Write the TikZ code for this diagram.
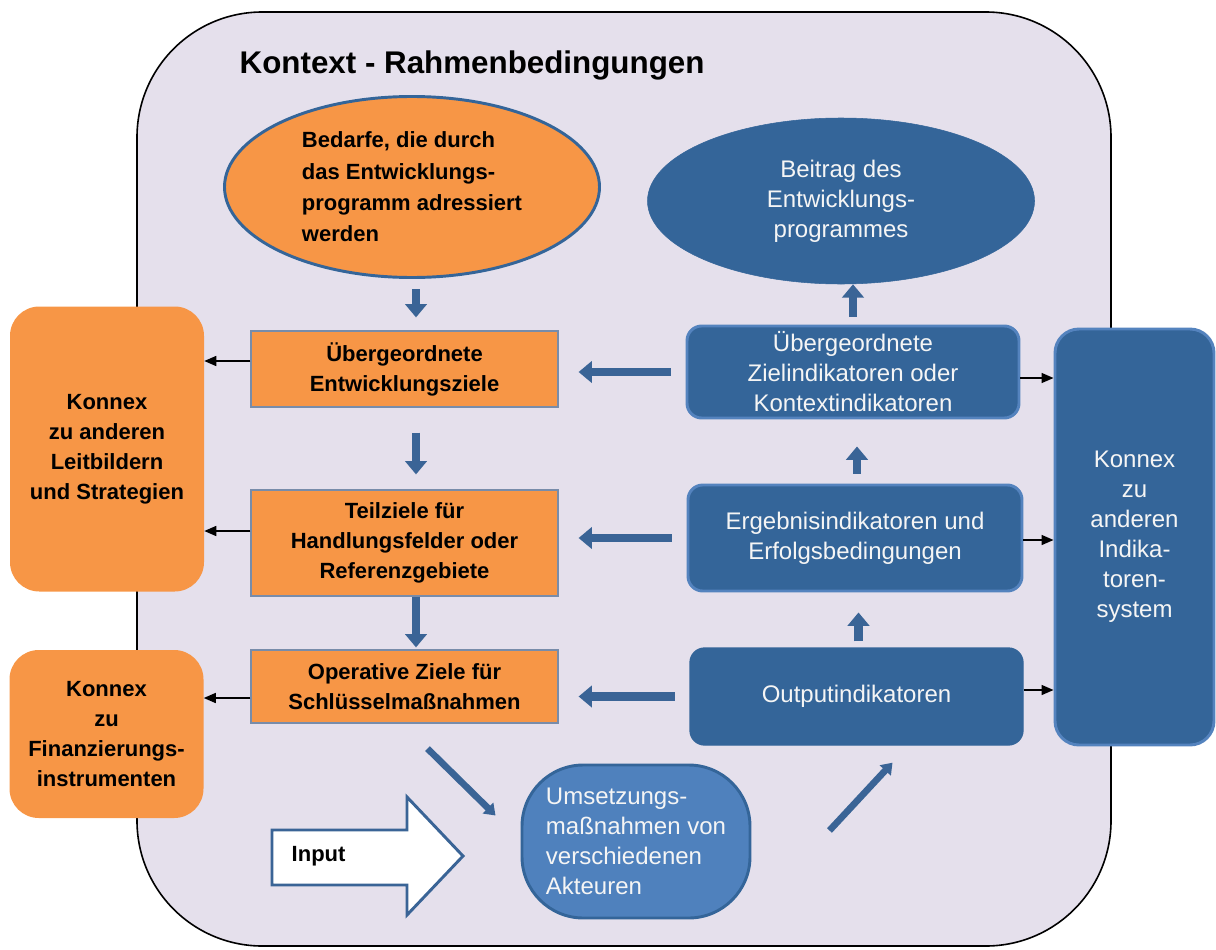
\documentclass[tikz,border=0pt]{standalone}
\usepackage{fontspec}
\setmainfont{Liberation Sans}
\usetikzlibrary{arrows.meta,shapes.geometric,calc}
\definecolor{bgl}{RGB}{229,224,236}
\definecolor{org}{RGB}{247,150,70}
\definecolor{dblue}{RGB}{52,101,153}
\definecolor{lblue}{RGB}{84,131,190}
\definecolor{ublue}{RGB}{79,129,189}
\definecolor{arrblue}{RGB}{58,100,150}
\definecolor{rectedge}{RGB}{120,140,170}
\definecolor{wtext}{RGB}{245,245,245}
\begin{document}
\begin{tikzpicture}[x=0.75pt,y=-0.75pt,
 blacktxt/.style={font=\fontsize{16.5}{22.5}\selectfont\bfseries, text=black, align=center},
 bluetxt/.style={font=\fontsize{18}{22.5}\selectfont, text=wtext, align=center},
 orect/.style={blacktxt, draw=rectedge, line width=0.9pt, fill=org, inner sep=0pt, minimum width=230.25pt},
 obox/.style={blacktxt, fill=org, rounded corners=22pt, inner sep=0pt, minimum width=145.5pt},
 bbox/.style={bluetxt, fill=dblue, draw=lblue, line width=2.2pt, rounded corners=11pt, inner sep=0pt},
 barrow/.style={draw=arrblue, line width=6.5pt, -{Triangle[width=16pt,length=10pt]}},
 darrow/.style={draw=arrblue, line width=5pt, -{Triangle[width=11pt,length=8pt]}},
 tarrow/.style={draw=black, line width=1.1pt, -{Triangle[width=7.5pt,length=9pt]}},
]
\useasboundingbox (0,0) rectangle (1216,949);
\draw[fill=bgl, draw=black, line width=1.2pt, rounded corners=94pt] (137,12) rectangle (1111,946);

\node[anchor=west, font=\fontsize{23.5}{28}\selectfont\bfseries] (title) at (235,65) {Kontext - Rahmenbedingungen};

\node[ellipse, fill=org, draw=dblue, line width=2.2pt, minimum width=281.25pt, minimum height=135.75pt, inner sep=0pt, blacktxt, font=\fontsize{16.5}{23.5}\selectfont\bfseries, align=left] (oe) at (412,187) {Bedarfe, die durch\\das Entwicklungs-\\programm adressiert\\werden};

\node[ellipse, fill=dblue, draw=dblue, minimum width=290.25pt, minimum height=124.5pt, inner sep=0pt, bluetxt] (be) at (841,201) {Beitrag des\\Entwicklungs-\\programmes};

\node[orect, minimum height=57pt] (ob1) at (404.5,369) {Übergeordnete\\Entwicklungsziele};
\node[orect, minimum height=79.5pt] (ob2) at (404.5,543) {Teilziele für\\Handlungsfelder oder\\Referenzgebiete};
\node[orect, minimum height=54.75pt] (ob3) at (404.5,686.5) {Operative Ziele für\\Schlüsselmaßnahmen};

\node[obox, minimum height=213.75pt] (kl) at (107,449) {Konnex\\zu anderen\\Leitbildern\\und Strategien};
\node[obox, minimum height=126pt] (kf) at (106.5,734) {Konnex\\zu\\Finanzierungs-\\instrumenten};

\node[bbox, minimum width=249pt, minimum height=69pt] (zi) at (853,372) {Übergeordnete\\Zielindikatoren oder\\Kontextindikatoren};
\node[bbox, minimum width=250.5pt, minimum height=79.5pt] (eb) at (855,538) {Ergebnisindikatoren und\\Erfolgsbedingungen};
\node[bbox, draw=dblue, line width=1pt, minimum width=249.75pt, minimum height=72.75pt] (oi) at (856.5,696.5) {Outputindikatoren};
\node[bbox, rounded corners=18pt, minimum width=119.25pt, minimum height=312pt] (ki) at (1134.5,537) {Konnex\\zu\\anderen\\Indika-\\toren-\\system};

\node[bbox, fill=ublue, draw=dblue, rounded corners=46pt, align=left, minimum width=171pt, minimum height=114.75pt] (um) at (636,841.5) {Umsetzungs-\\maßnahmen von\\verschiedenen\\Akteuren};

\draw[fill=white, draw=arrblue, line width=2.2pt, line join=miter] (272,830) -- (407,830) -- (407,797) -- (463,856) -- (407,915) -- (407,885) -- (272,885) -- cycle;
\node[blacktxt, anchor=west] (inp) at (287,856) {Input};

% thick left arrows
\draw[barrow, shorten <=11pt, shorten >=15pt] (zi.west) -- (zi.west -| ob1.east);
\draw[barrow, shorten <=11pt, shorten >=15pt] (eb.west) -- (eb.west -| ob2.east);
\draw[barrow, shorten <=11pt, shorten >=15pt] (oi.west) -- (oi.west -| ob3.east);

% thin left arrows
\draw[tarrow] ($(ob1.west)+(0,-8)$) -- ($(ob1.west -| kl.east)+(0,-8)$);
\draw[tarrow] ($(ob2.west)+(0,-12)$) -- ($(ob2.west -| kl.east)+(0,-12)$);
\draw[tarrow] ($(ob3.west)+(0,11.5)$) -- ($(ob3.west -| kf.east)+(0,11.5)$);

% thin right arrows
\draw[tarrow] ($(zi.east)+(0,6)$) -- ($(zi.east -| ki.west)+(0,6)$);
\draw[tarrow] ($(eb.east)+(0,2)$) -- ($(eb.east -| ki.west)+(0,2)$);
\draw[tarrow] ($(oi.east)+(0,-6.5)$) -- ($(oi.east -| ki.west)+(0,-6.5)$);

% down arrows
\draw[barrow] ($(ob1.north |- oe.south)+(11.5,10.5)$) -- ($(ob1.north)+(11.5,-13)$);
\draw[barrow] ($(ob1.south)+(11.5,25)$) -- ($(ob2.north)+(11.5,-15)$);
\draw[barrow] ($(ob2.south)+(11.5,0)$) -- ($(ob3.north)+(11.5,-2)$);

% up arrows
\draw[barrow] ($(oi.north)+(2,-6)$) -- ($(oi.north |- eb.south)+(2,20)$);
\draw[barrow] ($(eb.north)+(2,-10)$) -- ($(eb.north |- zi.south)+(2,27)$);
\draw[barrow] ($(zi.north)+(0,-8)$) -- ($(zi.north |- be.south)+(0,0)$);

% diagonal arrows
\draw[darrow] ($(ob3.south)+(23,25)$) -- ($(um.west)+(-25,-26)$);
\draw[darrow] ($(um.east)+(78,-11)$) -- ($(oi.south)+(36,17)$);
\end{tikzpicture}
\end{document}
